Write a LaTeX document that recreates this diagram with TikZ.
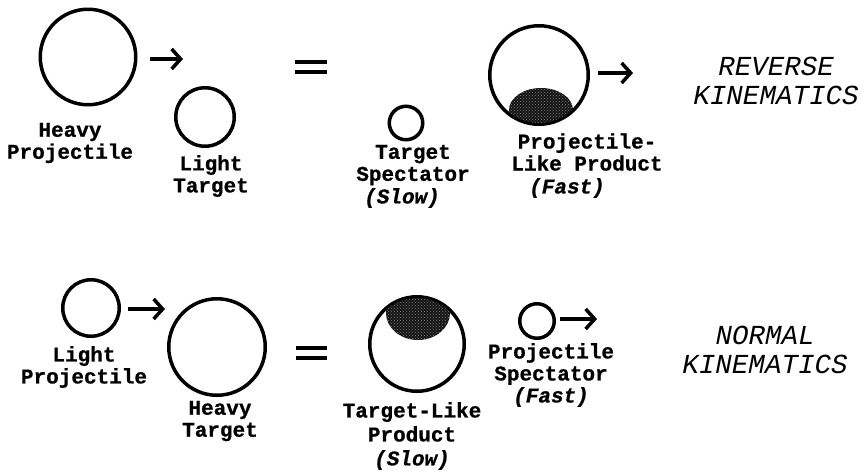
\documentclass[tikz,border=0pt]{standalone}
\usepackage{fontspec}
\usetikzlibrary{arrows.meta,patterns}
\newfontfamily\courfont[BoldFeatures={FakeBold=0.8},BoldItalicFeatures={FakeBold=0.8}]{Liberation Mono}
\definecolor{ink}{HTML}{000000}
\definecolor{blob}{HTML}{141414}
\tikzset{
  ball/.style={circle,draw=ink,line width=3.5pt,inner sep=0pt},
  lbl/.style={align=center,inner sep=0pt,font=\courfont\bfseries\fontsize{21}{22}\selectfont},
  spd/.style={lbl,font=\courfont\bfseries\itshape\fontsize{21}{22}\selectfont},
  kin/.style={align=center,inner sep=0pt,font=\courfont\itshape\fontsize{27.5}{29}\selectfont},
  mv/.style={-{Straight Barb[length=9pt,width=20pt]},line width=3.5pt,draw=ink},
  eqbar/.style={line width=4pt,draw=ink},
  blobfill/.style={fill=blob,postaction={pattern=crosshatch dots,pattern color=gray}},
}

\begin{document}
\begin{tikzpicture}[x=1pt,y=-1pt]
\useasboundingbox (0,0) rectangle (866,472);
\node[ball,minimum size=95.5pt] (hp) at (88,57) {};
\node[ball,minimum size=58.5pt] (lt) at (205,117) {};
\node[ball,minimum size=33.5pt] (ts) at (406,123) {};
\node[ball,minimum size=98.5pt] (plp) at (539,75) {};
\begin{scope}
\clip (plp.center) circle (48);
\fill[blobfill] (541,110) ellipse (32 and 22);
\end{scope}
\coordinate (hptip) at (183,59);
\coordinate (plptip) at (633,73);
\draw[mv] ([shift={(12.5,2)}]hp.east) -- (hptip);
\draw[mv] ([shift={(8,-2)}]plp.east) -- (plptip);
\draw[eqbar] (295,62) -- ++(32,0) (295,72) -- ++(32,0);
\node[lbl] (hpl) at (70,143) {Heavy\\Projectile};
\node[lbl] (ltl) at (211,176) {Light\\Target};
\node[lbl] (tsl) at (413,165) {Target\\Spectator};
\node[spd] (tss) at (402,198) {(Slow)};
\node[lbl] (plpl) at (587,152) {Projectile-\\Like Product};
\node[spd] (plps) at (567,188) {(Fast)};
\node[kin] (rev) at (776,81) {REVERSE\\KINEMATICS};

\node[ball,minimum size=56.5pt] (lp) at (91,308) {};
\node[ball,minimum size=96.5pt] (ht) at (217,347) {};
\node[ball,minimum size=94.5pt] (tlp) at (417,344) {};
\begin{scope}
\clip (tlp.center) circle (46);
\fill[blobfill] (418,313) ellipse (32 and 27);
\end{scope}
\node[ball,minimum size=34.5pt] (ps) at (537,321) {};
\coordinate (lptip) at (165,309);
\coordinate (pstip) at (597,319);
\draw[mv] ([shift={(7,1)}]lp.east) -- (lptip);
\draw[mv] ([shift={(4,-2)}]ps.east) -- (pstip);
\draw[eqbar] (296,348) -- ++(31,0) (296,358) -- ++(31,0);
\node[lbl] (lpl) at (84,367) {Light\\Projectile};
\node[lbl] (htl) at (220,421) {Heavy\\Target};
\node[lbl,font=\courfont\bfseries\fontsize{21}{24}\selectfont] (tlpl) at (412,436) {Target-Like\\Product\\\textit{(Slow)}};
\node[lbl] (psl) at (551,375) {Projectile\\Spectator\\\textit{(Fast)}};
\node[kin] (nrm) at (765,350) {NORMAL\\KINEMATICS};
\end{tikzpicture}
\end{document}
